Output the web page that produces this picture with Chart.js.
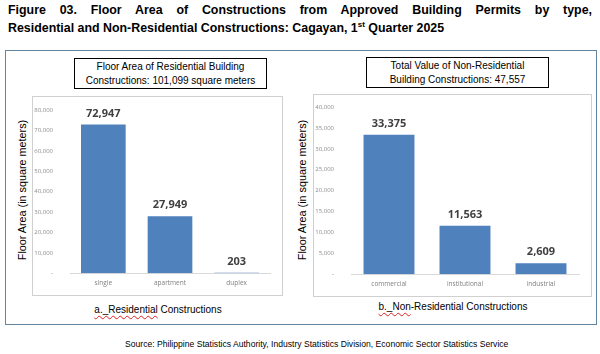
<!DOCTYPE html>
<html>
<head>
<meta charset="utf-8">
<script src="https://cdn.jsdelivr.net/npm/chart.js@4.4.1/dist/chart.umd.min.js"></script>
<style>
  body { margin: 0; width: 600px; height: 354px; background: #fff; position: relative; overflow: hidden; font-family: "Liberation Sans", Arial, sans-serif; }
  .abs { position: absolute; }
  .tline { left: 8px; width: 584px; font-weight: bold; font-size: 12.4px; line-height: 15px; color: #000; white-space: nowrap; }
  #t1 { top: 3px; text-align: justify; text-align-last: justify; white-space: normal; }
  #t2 { top: 21px; }
  .tline sup { font-size: 8px; line-height: 0; }
  #frame { left: 5px; top: 50px; width: 590px; height: 273px; border: 1.5px solid #6485a0; }
  .tbox { border: 1px solid #000; font-size: 10px; line-height: 14px; text-align: center; color: #000; box-sizing: border-box; padding-top: 1px; }
  .cbox { border: 1px solid #d0d0d0; box-sizing: border-box; }
  .ytitle { font-size: 10.8px; color: #000; white-space: nowrap; transform: translate(-50%, -50%) rotate(-90deg); }
  .sub { font-size: 10px; color: #000; white-space: nowrap; transform: translateX(-50%); }
  .sq { text-decoration: underline wavy #e02020; text-decoration-thickness: 1px; text-underline-offset: 2px; }
  #source { left: 125px; top: 339px; font-size: 8.6px; color: #000; white-space: nowrap; }
</style>
</head>
<body>
<div id="t1" class="abs tline">Figure 03. Floor Area of Constructions from Approved Building Permits by type,</div>
<div id="t2" class="abs tline">Residential and Non-Residential Constructions: Cagayan, 1<sup>st</sup> Quarter 2025</div>
<div id="frame" class="abs"></div>

<div class="abs tbox" style="left:74px;top:58px;width:193px;height:31px;">Floor Area of Residential Building<br>Constructions: 101,099 square meters</div>
<div class="abs tbox" style="left:366px;top:57px;width:183px;height:31px;">Total Value of Non-Residential<br>Building Constructions: 47,557</div>

<div class="abs cbox" style="left:32px;top:96px;width:251px;height:200px;"></div>
<div class="abs" style="left:32px;top:96px;width:251px;height:200px;"><canvas id="resChart"></canvas></div>
<div class="abs cbox" style="left:313px;top:94px;width:279px;height:203px;"></div>
<div class="abs" style="left:313px;top:94px;width:279px;height:203px;"><canvas id="nonresChart"></canvas></div>

<div class="abs ytitle" style="left:22px;top:190px;">Floor Area (in square meters)</div>
<div class="abs ytitle" style="left:302px;top:190px;">Floor Area (in square meters)</div>

<div class="abs sub" style="left:158px;top:304px;"><span class="sq">a._Residential</span> Constructions</div>
<div class="abs sub" style="left:453px;top:301px;"><span class="sq">b._Non</span>-Residential Constructions</div>

<div id="source" class="abs">Source: Philippine Statistics Authority, Industry Statistics Division, Economic Sector Statistics Service</div>

<script>
const resCategories = ["single", "apartment", "duplex"];
const resValues = [72947, 27949, 203];
const nonresCategories = ["commercial", "institutional", "industrial"];
const nonresValues = [33375, 11563, 2609];

const barColor = "#4f81bd";

// value labels above each bar
const valueLabels = {
    id: "valueLabels",
    afterDatasetsDraw(chart) {
        const ctx = chart.ctx;
        const meta = chart.getDatasetMeta(0);
        ctx.save();
        ctx.font = "bold 11px 'Open Sans', sans-serif";
        ctx.fillStyle = "#404040";
        ctx.textAlign = "center";
        ctx.textBaseline = "middle";
        meta.data.forEach(function(bar, i) {
            const v = chart.data.datasets[0].data[i];
            ctx.fillText(v.toLocaleString("en-US"), bar.x, bar.y - 11);
        });
        ctx.restore();
    }
};

function makeChart(id, labels, values, maxY, stepY, padTop, padBottom) {
    const ctx = document.getElementById(id);
    return new Chart(ctx, {
        type: "bar",
        data: {
            labels: labels,
            datasets: [{
                data: values,
                backgroundColor: barColor,
                categoryPercentage: 1,
                barPercentage: 0.67
            }]
        },
        options: {
            responsive: true,
            maintainAspectRatio: false,
            animation: false,
            layout: { autoPadding: false, padding: { top: padTop, right: 13, bottom: padBottom, left: 0 } },
            plugins: { legend: { display: false }, tooltip: { enabled: false } },
            scales: {
                x: {
                    grid: { display: false, drawTicks: false },
                    border: { display: true, color: "#d9d9d9" },
                    ticks: { color: "#7f7f7f", font: { size: 6.5, family: "'Open Sans', sans-serif" }, padding: 6 }
                },
                y: {
                    min: 0,
                    max: maxY,
                    grid: { display: false, drawTicks: false },
                    border: { display: false },
                    afterFit: function(scale) {
                        scale.width = 38;
                        scale.paddingTop = 0;
                        scale.paddingBottom = 0;
                    },
                    ticks: {
                        stepSize: stepY,
                        color: "#8c8c8c",
                        font: { size: 6, family: "'Open Sans', sans-serif" },
                        padding: 17,
                        callback: function(v) { return v === 0 ? "-" : v.toLocaleString("en-US"); }
                    }
                }
            }
        },
        plugins: [valueLabels]
    });
}

makeChart("resChart", resCategories, resValues, 80000, 10000, 14, 3);
makeChart("nonresChart", nonresCategories, nonresValues, 40000, 5000, 13, 3);
</script>
</body>
</html>
